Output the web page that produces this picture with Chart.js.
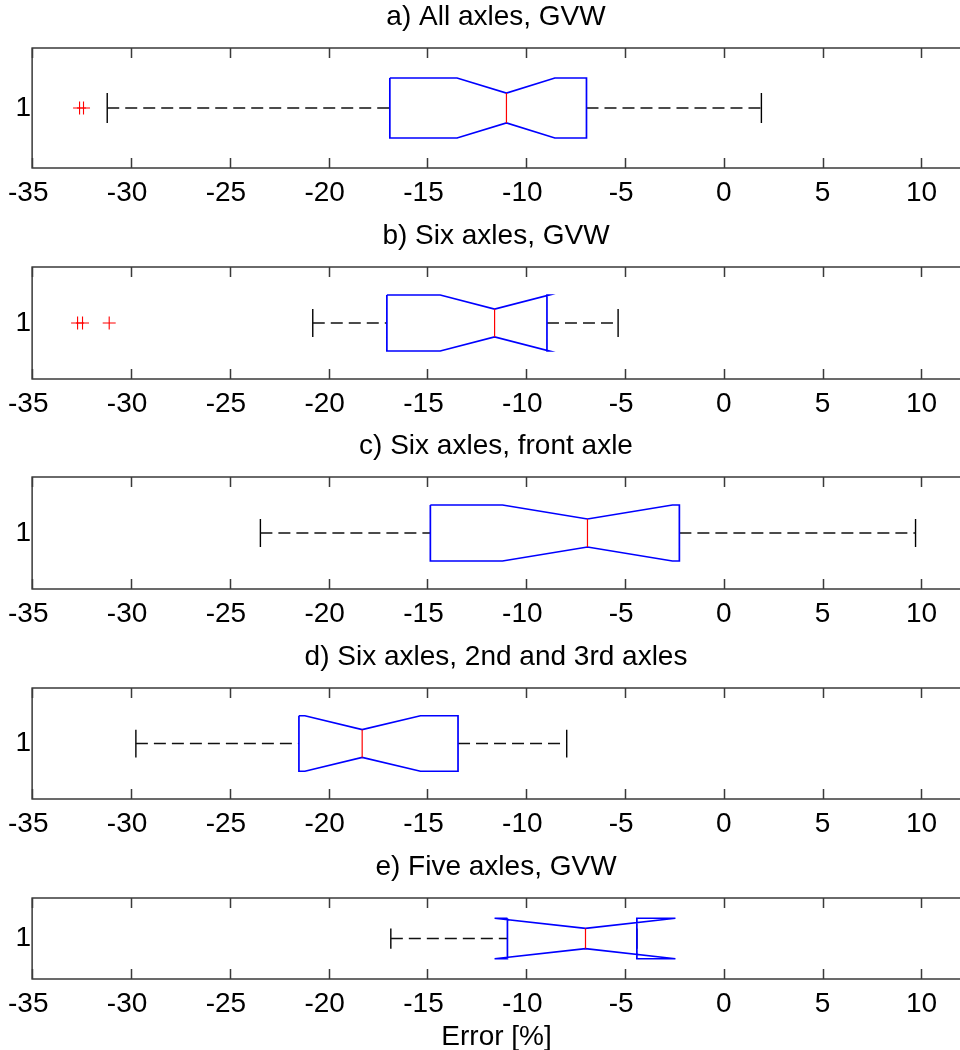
<!DOCTYPE html>
<html>
<head>
<meta charset="utf-8">
<script src="https://cdn.jsdelivr.net/npm/chart.js@4/dist/chart.umd.min.js"></script>
<style>
  html, body { margin: 0; padding: 0; background: #fff; overflow: hidden; width: 960px; height: 1050px; }
  #wrap { position: relative; width: 960px; height: 1050px; overflow: hidden; }
  canvas { position: absolute; left: 0; }
</style>
</head>
<body>
<div id="wrap"></div>
<script>
// boxplot statistics, one entry per panel (error in %)
const panelTitles = [
  'a) All axles, GVW',
  'b) Six axles, GVW',
  'c) Six axles, front axle',
  'd) Six axles, 2nd and 3rd axles',
  'e) Five axles, GVW'
];
const lowerWhisker  = [-31.2, -20.8, -23.45, -29.75, -16.85];
const lowerQuartile = [-16.9, -17.05, -14.85, -21.5, -10.95];
const notchLow      = [-13.5, -14.35, -11.2, -21.2, -11.6];
const medianValue   = [-11.0, -11.6, -6.9, -18.3, -7.0];
const notchHigh     = [-8.55, -8.85, -2.6, -15.35, -2.45];
const upperQuartile = [-6.95, -8.95, -2.25, -13.45, -4.4];
const upperWhisker  = [1.9, -5.35, 9.7, -7.95, -4.4];
const outliers      = [[-32.6, -32.4], [-32.7, -32.45, -31.1], [], [], []];
const xTickValues   = [-35, -30, -25, -20, -15, -10, -5, 0, 5, 10];
const groupLabel    = '1';
const xAxisTitle    = 'Error [%]';

// page layout of the five panels
const panelTop    = [0, 219, 429, 640, 850];
const plotHeight  = [120, 112, 112, 111, 81];
const axisHeight  = [40, 40, 40, 40, 81];

Chart.defaults.font.family = '"Liberation Sans", Arial, sans-serif';
Chart.defaults.color = '#000';

const BOX = 0.25, NOTCH = 0.125, FONT = 28;

// axes frame with ticks pointing inwards
const frameTicks = {
  id: 'frameTicks',
  afterDatasetsDraw(chart) {
    const { ctx, chartArea: a, scales: { x } } = chart;
    ctx.save();
    ctx.strokeStyle = '#3a3a3a';
    ctx.lineWidth = 1.5;
    ctx.strokeRect(a.left, a.top, a.right - a.left, a.bottom - a.top);
    ctx.beginPath();
    x.ticks.forEach(t => {
      const px = Math.round(x.getPixelForValue(t.value)) + 0.5;
      ctx.moveTo(px, a.top); ctx.lineTo(px, a.top + 10);
      ctx.moveTo(px, a.bottom); ctx.lineTo(px, a.bottom - 10);
    });
    ctx.stroke();
    ctx.restore();
  }
};

function line(points, color, width, dash, order) {
  return {
    data: points, showLine: true, borderColor: color, borderWidth: width,
    borderDash: dash || [], pointRadius: 0, tension: 0, order: order, fill: false
  };
}

// digits sit centred on the tick, the minus sign hangs to the left
function tickText(v) {
  return v < 0 ? v + ' ' : String(v);
}

const wrap = document.getElementById('wrap');

panelTitles.forEach((title, i) => {
  const q1 = lowerQuartile[i], q3 = upperQuartile[i], med = medianValue[i];
  const nlo = notchLow[i], nhi = notchHigh[i];
  const lw = lowerWhisker[i], uw = upperWhisker[i];

  const canvas = document.createElement('canvas');
  canvas.width = 992;
  canvas.height = 48 + plotHeight[i] + axisHeight[i];
  canvas.style.top = panelTop[i] + 'px';
  wrap.appendChild(canvas);

  const notchBox = [
    { x: q1, y: 1 + BOX }, { x: nlo, y: 1 + BOX }, { x: med, y: 1 + NOTCH },
    { x: nhi, y: 1 + BOX }, { x: q3, y: 1 + BOX }, { x: q3, y: 1 - BOX },
    { x: nhi, y: 1 - BOX }, { x: med, y: 1 - NOTCH }, { x: nlo, y: 1 - BOX },
    { x: q1, y: 1 - BOX }, { x: q1, y: 1 + BOX }
  ];

  const datasets = [
    {
      data: outliers[i].map(v => ({ x: v, y: 1 })), showLine: false,
      pointStyle: 'cross', pointRadius: 6.5, borderColor: '#ff0000',
      borderWidth: 1.1, order: 0
    },
    line([{ x: med, y: 1 - NOTCH }, { x: med, y: 1 + NOTCH }], '#ff0000', 1.2, null, 1),
    line(notchBox, '#0000ff', 1.7, null, 2),
    line([{ x: lw, y: 1 }, { x: q1, y: 1 }], '#111', 1.6, [12, 6], 3),
    line([{ x: q3, y: 1 }, { x: uw, y: 1 }], '#111', 1.6, [12, 6], 3),
    line([{ x: lw, y: 1 - NOTCH }, { x: lw, y: 1 + NOTCH }], '#000', 1.4, null, 4),
    line([{ x: uw, y: 1 - NOTCH }, { x: uw, y: 1 + NOTCH }], '#000', 1.4, null, 4)
  ];

  const last = i === panelTitles.length - 1;

  new Chart(canvas, {
    type: 'scatter',
    data: { datasets },
    plugins: [frameTicks],
    options: {
      responsive: false,
      animation: false,
      devicePixelRatio: 1,
      layout: { padding: 0 },
      plugins: {
        legend: { display: false },
        tooltip: { enabled: false },
        title: {
          display: true, text: title, color: '#000',
          font: { size: FONT, weight: 'normal' },
          padding: { top: 0, bottom: 14.4 }
        }
      },
      scales: {
        x: {
          type: 'linear', min: -35, max: 12,
          grid: { display: false, drawTicks: false }, border: { display: false },
          ticks: { padding: 8, font: { size: FONT }, color: '#000', callback: v => tickText(v) },
          afterBuildTicks: s => { s.ticks = xTickValues.map(v => ({ value: v })); },
          afterFit: s => { s.height = axisHeight[i]; },
          title: {
            display: last, text: xAxisTitle, color: '#000',
            font: { size: FONT }, padding: { top: 0, bottom: 6 }
          }
        },
        y: {
          type: 'linear', min: 0.5, max: 1.5,
          grid: { display: false, drawTicks: false }, border: { display: false },
          ticks: { padding: 1, font: { size: FONT }, color: '#000', callback: () => groupLabel },
          afterBuildTicks: s => { s.ticks = [{ value: 1 }]; },
          afterFit: s => { s.width = 32; }
        },
        // empty right-hand axis keeps the frame running past the window edge
        yRight: {
          type: 'linear', position: 'right', display: true,
          grid: { display: false, drawTicks: false }, border: { display: false },
          ticks: { display: false },
          afterFit: s => { s.width = 31; }
        }
      }
    }
  });
});
</script>
</body>
</html>
